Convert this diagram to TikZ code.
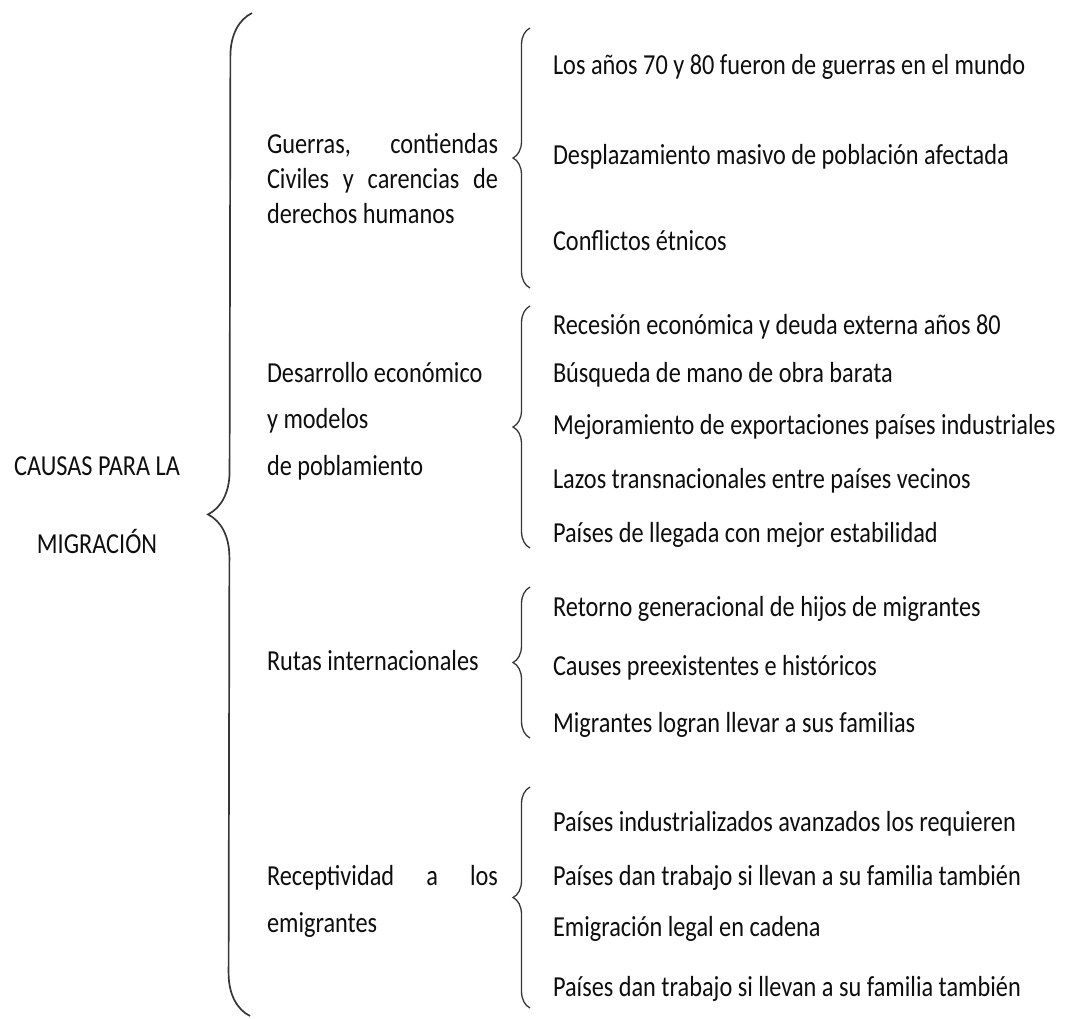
\documentclass[tikz,border=0pt]{standalone}
\usepackage{fontspec}
\setmainfont{Carlito}[FakeStretch=0.838]
\usetikzlibrary{decorations.pathreplacing}
\definecolor{inkText}{HTML}{0E0E0E}
\definecolor{inkBrace}{HTML}{363636}

\begin{document}
\begin{tikzpicture}[x=1pt, y=-1pt,
  every node/.style={inner sep=0pt, outer sep=0pt, text=inkText,
    font=\fontsize{29}{35}\selectfont},
  itemtext/.style={anchor=base west},
  cattext/.style={anchor=base west},
  maintext/.style={anchor=base},
  bigbrace/.style={draw=inkBrace, line width=1.7pt, decorate,
    decoration={brace, amplitude=43pt}},
  subbrace/.style={draw=inkBrace, line width=1.3pt, decorate,
    decoration={brace, amplitude=17pt}}]

% --- PARAMETERS ---
\def\xMain{97}          % centre of the main label
\def\xCat{267}          % left edge of the category labels
\def\catW{231pt}        % width of the justified category lines
\def\xItem{553}         % left edge of the items
\def\xSub{530}          % ends of the small braces

\useasboundingbox (0,0) rectangle (1068,1018);

% --- MAIN LABEL ---
\node[maintext] (main1) at (\xMain,475) {CAUSAS PARA LA};
\node[maintext] (main2) at (\xMain,553) {MIGRACIÓN};

% --- BIG BRACE ---
\coordinate (bigtop) at (252,13);
\coordinate (bigbot) at (250,1016);
\draw[bigbrace] (bigbot) -- (bigtop);

% --- CATEGORIES (justified lines as in the source) ---
\node[cattext] (cat1a) at (\xCat,153) {\makebox[\catW][s]{Guerras, contiendas}};
\node[cattext] (cat1b) at (\xCat,188) {\makebox[\catW][s]{Civiles y carencias de}};
\node[cattext] (cat1c) at (\xCat,223) {derechos humanos};

\node[cattext] (cat2a) at (\xCat,382) {Desarrollo económico};
\node[cattext] (cat2b) at (\xCat,428) {y modelos};
\node[cattext] (cat2c) at (\xCat,475) {de poblamiento};

\node[cattext] (cat3a) at (\xCat,670) {Rutas internacionales};

\node[cattext] (cat4a) at (\xCat,885) {\makebox[\catW][s]{Receptividad a los}};
\node[cattext] (cat4b) at (\xCat,932) {emigrantes};

% --- SMALL BRACES (bottom end / top end) ---
\foreach \g/\yb/\yt in {1/288/28, 2/548/306, 3/738/587, 4/1008/787} {
  \coordinate (sb\g) at (\xSub,\yb);
  \coordinate (st\g) at (\xSub,\yt);
  \draw[subbrace] (sb\g) -- (st\g);
}

% --- ITEMS ---
\foreach \y/\txt [count=\i] in {
  74/Los años 70 y 80 fueron de guerras en el mundo,
  164/Desplazamiento masivo de población afectada,
  250/Conflictos étnicos} {
  \node[itemtext] (g1-\i) at (\xItem,\y) {\txt};
}
\foreach \y/\txt [count=\i] in {
  334/Recesión económica y deuda externa años 80,
  382/Búsqueda de mano de obra barata,
  434/Mejoramiento de exportaciones países industriales,
  488/Lazos transnacionales entre países vecinos,
  542/Países de llegada con mejor estabilidad} {
  \node[itemtext] (g2-\i) at (\xItem,\y) {\txt};
}
\foreach \y/\txt [count=\i] in {
  616/Retorno generacional de hijos de migrantes,
  675/Causes preexistentes e históricos,
  732/Migrantes logran llevar a sus familias} {
  \node[itemtext] (g3-\i) at (\xItem,\y) {\txt};
}
\foreach \y/\txt [count=\i] in {
  831/Países industrializados avanzados los requieren,
  885/Países dan trabajo si llevan a su familia también,
  936/Emigración legal en cadena,
  996/Países dan trabajo si llevan a su familia también} {
  \node[itemtext] (g4-\i) at (\xItem,\y) {\txt};
}

\end{tikzpicture}
\end{document}
